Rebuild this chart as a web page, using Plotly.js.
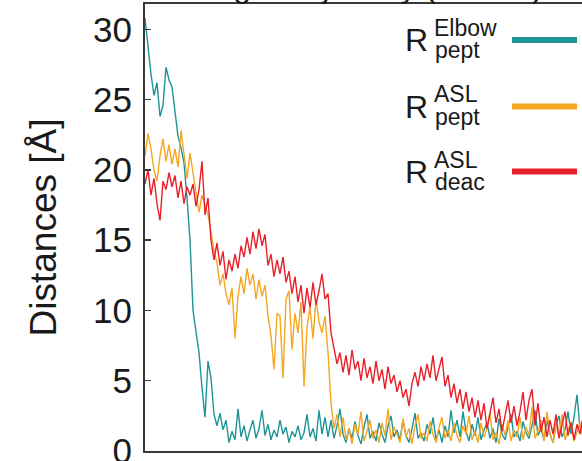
<!DOCTYPE html>
<html><head><meta charset="utf-8">
<script src="https://cdn.plot.ly/plotly-3.0.1.min.js"></script>
<style>html,body{margin:0;padding:0;overflow:hidden;background:#fff}#chart{width:645px;height:461px}</style>
</head><body><div id="chart"></div>
<script>
// Distance traces (Å) per frame
const elbowPept = [30.8,28.6,26.8,25.3,26.2,23.8,24.6,27.3,26.4,25.9,
24.0,22.4,21.6,20.5,18.0,15.0,10.0,8.4,7.0,4.5,
2.4,6.4,5.2,2.6,1.8,2.7,1.5,2.2,0.6,1.4,
0.8,3.0,1.0,1.8,0.7,1.5,2.2,0.9,1.6,2.9,
1.1,1.9,0.8,1.5,1.0,2.2,1.2,1.7,0.6,1.4,
1.0,1.8,0.8,1.3,2.6,1.0,1.6,0.7,2.9,1.2,
2.4,1.0,2.2,0.9,1.8,3.0,1.2,0.6,1.6,0.9,
2.1,1.1,0.5,1.7,2.6,0.9,1.4,0.7,2.0,1.2,
0.6,1.8,2.5,1.0,1.5,0.8,2.2,1.1,0.6,1.6,
2.7,0.9,1.3,0.7,1.9,1.2,2.4,0.8,1.5,0.6,
1.8,1.0,2.9,1.3,2.2,1.0,2.8,1.4,0.7,1.9,
1.1,2.4,0.8,1.5,2.0,0.9,1.6,0.6,2.3,1.2,
0.8,1.7,2.6,1.0,1.4,0.7,2.1,1.3,0.9,1.8,
2.9,1.1,1.6,0.8,2.2,1.2,0.6,1.9,2.5,1.0,
1.5,2.8,1.2,2.4,4.0,1.6,2.2,1.0,1.8,1.3];

const aslPept = [21.0,22.6,21.5,20.0,19.2,21.0,22.2,20.6,21.8,20.4,
21.5,20.2,22.8,21.0,19.4,21.2,19.8,18.6,17.0,18.2,
17.4,16.8,15.6,14.2,13.4,11.8,12.6,11.2,10.4,11.6,
8.0,11.0,12.4,11.2,13.0,11.8,12.6,10.8,12.2,11.0,
11.8,9.6,8.2,5.8,9.8,9.6,5.2,10.8,11.4,7.2,
9.8,8.4,10.6,4.6,8.8,10.2,8.0,10.8,9.2,8.4,
9.6,7.0,3.4,1.6,2.6,1.0,2.4,0.8,1.6,0.5,
1.9,1.2,2.8,0.7,1.4,2.2,0.9,1.5,0.6,2.0,
1.1,3.0,0.8,1.7,1.2,0.6,2.3,1.0,1.6,0.5,
1.8,2.6,0.9,1.3,0.7,2.1,1.2,0.6,1.7,2.4,
0.9,1.5,0.7,2.0,1.1,0.6,1.8,1.2,2.5,0.8,
1.4,0.6,2.0,1.0,1.6,2.7,0.8,1.3,0.5,1.9,
1.1,2.2,0.7,1.5,1.0,2.4,0.8,1.7,1.1,3.1,
0.9,1.4,2.2,0.7,2.8,1.2,0.6,1.9,1.0,2.6,
0.8,1.5,2.1,0.7,1.3,2.0,0.9,1.6,1.1,2.3];

const aslDeac = [19.0,20.0,18.2,19.4,17.6,16.4,19.2,18.6,19.8,18.8,
19.6,18.0,19.2,17.6,18.8,18.2,19.0,17.4,18.6,20.6,
16.8,18.0,15.0,13.6,14.8,13.2,14.2,12.2,13.6,12.8,
14.0,13.0,14.6,13.8,15.2,14.0,15.6,14.4,15.8,14.6,
15.4,13.2,14.0,12.4,13.6,12.6,13.8,12.0,12.8,11.2,
12.4,10.6,11.8,9.8,11.6,10.2,12.0,10.4,11.4,12.6,
10.8,11.2,8.4,7.4,6.2,7.0,5.6,6.8,5.4,7.2,
5.8,6.4,5.0,6.6,5.2,6.0,4.8,6.4,5.0,5.8,
4.4,6.0,4.8,5.4,4.2,5.0,3.8,4.4,3.2,4.8,
5.6,4.6,6.0,5.0,6.2,5.2,6.8,5.0,5.8,6.7,
4.6,5.4,3.8,4.8,3.4,4.4,3.0,4.2,2.8,3.8,
2.4,3.6,2.2,3.4,1.6,2.8,3.8,2.0,3.0,1.4,
2.6,3.6,2.0,3.2,1.8,2.8,4.2,2.2,3.6,4.4,
1.8,3.4,1.4,2.4,1.0,2.2,1.2,2.6,0.9,1.8,
2.8,1.1,2.0,0.8,1.9,1.2,2.4,1.0,1.8,1.4];

const seriesNames = ["R Elbow pept", "R ASL pept", "R ASL deac"];
const seriesColors = ["#1f9496", "#f5a623", "#e8202a"];
const yTicks = [0, 5, 10, 15, 20, 25, 30];
const frame = elbowPept.map((_, i) => i);

const traces = [elbowPept, aslPept, aslDeac].map((ys, k) => ({
  x: frame, y: ys, type: 'scatter', mode: 'lines', name: seriesNames[k],
  line: {color: seriesColors[k], width: 1.4}, showlegend: false
}));

// plot area: x 145..640 px, y 4..451 px
const W = 495, H = 447, L = 145, T = 4;
const px = v => (v - L) / W;
const py = v => (T + H - v) / H;
const legRows = [
  {line: 40, sup: "Elbow", sub: "pept"},
  {line: 106.5, sup: "ASL", sub: "pept"},
  {line: 171.5, sup: "ASL", sub: "deac"}
];
const tf = 'Liberation Sans, Arial, sans-serif';
const annotations = [
  {text: "Distances [Å]", xref: 'paper', yref: 'paper', x: px(43), y: 0.5, textangle: -90,
   showarrow: false, xanchor: 'center', yanchor: 'middle', font: {family: tf, size: 37, color: '#1a1a1a'}},
  {text: "Single trajectory (500 ns)", xref: 'paper', yref: 'paper', x: px(365), y: py(6), yanchor: 'bottom',
   showarrow: false, xanchor: 'center', font: {family: tf, size: 32, color: '#1a1a1a'}}
];
const shapes = [];
legRows.forEach((r, k) => {
  annotations.push({text: "R", xref: 'paper', yref: 'paper', x: px(403), y: py(r.line), xanchor: 'left', yanchor: 'middle',
    showarrow: false, font: {family: tf, size: 32, color: '#1a1a1a'}});
  annotations.push({text: r.sup, xref: 'paper', yref: 'paper', x: px(432), y: py(r.line - 12), xanchor: 'left', yanchor: 'middle',
    showarrow: false, font: {family: tf, size: 23, color: '#1a1a1a'}});
  annotations.push({text: r.sub, xref: 'paper', yref: 'paper', x: px(433), y: py(r.line + 10), xanchor: 'left', yanchor: 'middle',
    showarrow: false, font: {family: tf, size: 23, color: '#1a1a1a'}});
  shapes.push({type: 'line', xref: 'paper', yref: 'paper', x0: px(512), x1: px(577), y0: py(r.line), y1: py(r.line),
    line: {color: seriesColors[k], width: 6}});
});

const layout = {
  width: 645, height: 461,
  margin: {l: 145, r: 5, t: 4, b: 10},
  paper_bgcolor: '#fff', plot_bgcolor: '#fff',
  showlegend: false,
  xaxis: {range: [0, 165], showline: true, linecolor: '#3a3a3a', linewidth: 2, mirror: true,
    showticklabels: false, ticks: '', showgrid: false, zeroline: false},
  yaxis: {range: [0, 31.8], tickvals: yTicks, ticks: 'inside', ticklen: 6, tickwidth: 1.5, tickcolor: '#3a3a3a',
    showline: true, linecolor: '#3a3a3a', linewidth: 2, mirror: true, showgrid: false, zeroline: false,
    ticklabelstandoff: 4, ticklabeloverflow: 'allow',
    tickfont: {family: tf, size: 35, color: '#1a1a1a'}},
  annotations: annotations, shapes: shapes
};
Plotly.newPlot('chart', traces, layout, {displayModeBar: false, staticPlot: true});
</script></body></html>
